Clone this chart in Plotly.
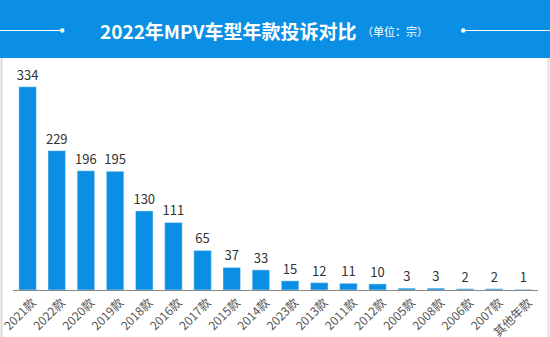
import plotly.graph_objects as go

categories = ["2021款", "2022款", "2020款", "2019款", "2018款", "2016款", "2017款", "2015款", "2014款",
              "2023款", "2013款", "2011款", "2012款", "2005款", "2008款", "2006款", "2007款", "其他年款"]
values = [334, 229, 196, 195, 130, 111, 65, 37, 33, 15, 12, 11, 10, 3, 3, 2, 2, 1]
title_main = "2022年MPV车型年款投诉对比"
title_unit = "（单位：宗）"

W, H = 550, 337
ML, MR, MT, MB = 13, 12, 60, 47
PW, PH = W - ML - MR, H - MT - MB

def px(x):
    return (x - ML) / PW

def py(y):
    return (H - MB - y) / PH

BLUE = "#0b8fe4"
FONT = "Noto Sans CJK SC"

# the longest label is drawn a bit smaller so it stays inside the page
ticktext = [c if len(c) <= 5 else '<span style="font-size:10.5px">' + c + "</span>" for c in categories]

fig = go.Figure(go.Bar(
    x=categories, y=values, marker_color=BLUE, width=0.6,
    text=[str(v) for v in values], textposition="outside",
    textfont=dict(size=13, color="#333333", family=FONT),
    cliponaxis=False, constraintext="none",
))

shapes = [
    dict(type="rect", xref="paper", yref="paper", x0=px(-5), x1=px(W + 5), y0=py(58), y1=py(-5),
         fillcolor=BLUE, line_width=0, layer="below"),
    dict(type="line", xref="paper", yref="paper", x0=px(-5), x1=px(62), y0=py(30.5), y1=py(30.5),
         line=dict(color="white", width=1)),
    dict(type="line", xref="paper", yref="paper", x0=px(463), x1=px(W + 5), y0=py(30.5), y1=py(30.5),
         line=dict(color="white", width=1)),
    dict(type="circle", xref="paper", yref="paper", x0=px(60), x1=px(64.5), y0=py(32.7), y1=py(28.3),
         fillcolor="white", line_width=0),
    dict(type="circle", xref="paper", yref="paper", x0=px(461), x1=px(465.5), y0=py(32.7), y1=py(28.3),
         fillcolor="white", line_width=0),
    dict(type="line", xref="paper", yref="paper", x0=px(1.5), x1=px(1.5), y0=py(58), y1=py(H + 5),
         line=dict(color="#d9d9d9", width=2)),
    dict(type="line", xref="paper", yref="paper", x0=px(548.5), x1=px(548.5), y0=py(58), y1=py(H + 5),
         line=dict(color="#e0e0e0", width=2)),
]

annotations = [
    dict(xref="paper", yref="paper", x=px(358), y=py(30), xanchor="right", yanchor="middle",
         text="<b>" + title_main + "</b>", showarrow=False,
         font=dict(size=19, color="white", family=FONT)),
    dict(xref="paper", yref="paper", x=px(360), y=py(31), xanchor="left", yanchor="middle",
         text=title_unit, showarrow=False,
         font=dict(size=11, color="white", family=FONT)),
]

fig.update_layout(
    width=W, height=H,
    margin=dict(l=ML, r=MR, t=MT, b=MB, autoexpand=False),
    paper_bgcolor="white", plot_bgcolor="white",
    showlegend=False,
    shapes=shapes, annotations=annotations,
    bargap=0.4,
    xaxis=dict(tickangle=-45, tickfont=dict(size=12, color="#555555", family=FONT),
               tickmode="array", tickvals=categories, ticktext=ticktext,
               ticklabelshift=5, ticklabelstandoff=0,
               showline=True, linecolor="#888888", linewidth=1, ticks="", showgrid=False,
               automargin=False, range=[-0.5, len(categories) - 0.5]),
    yaxis=dict(visible=False, range=[0, 378], showgrid=False, automargin=False),
)

fig.write_html("out.html")
